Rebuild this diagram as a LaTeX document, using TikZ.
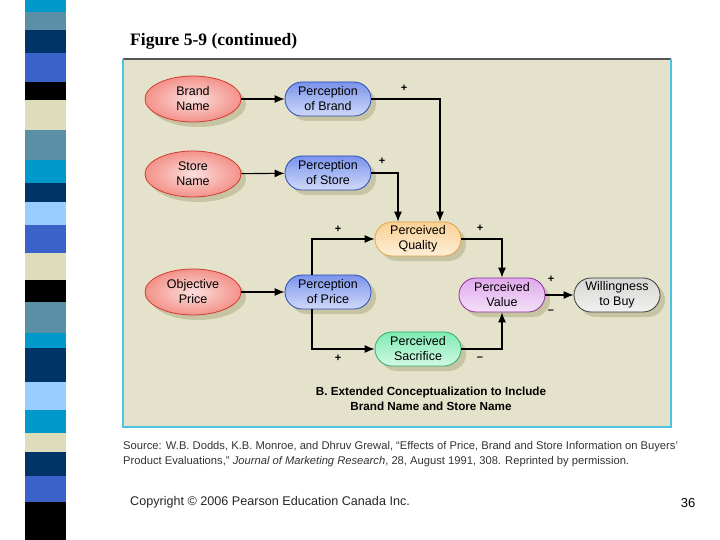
\documentclass[tikz,border=0pt]{standalone}
\usepackage{fontspec}
\setmainfont{Liberation Sans}
\newfontfamily\titlefont{Liberation Serif}
\usetikzlibrary{shapes.geometric,arrows.meta}

\definecolor{panelbg}{HTML}{E4E2CA}
\definecolor{panelline}{HTML}{4CC4E0}
\definecolor{paneltop}{HTML}{555555}
\definecolor{shadowbg}{HTML}{C6C4A2}
\definecolor{redfill}{HTML}{F3928A}
\definecolor{redline}{HTML}{D23A32}
\definecolor{bluefill}{HTML}{7A94EC}
\definecolor{blueline}{HTML}{2A4AB8}
\definecolor{orangefill}{HTML}{FAD094}
\definecolor{orangeline}{HTML}{E3A244}
\definecolor{purplefill}{HTML}{E0A8EC}
\definecolor{purpleline}{HTML}{8E2E9C}
\definecolor{greenfill}{HTML}{7EEBB2}
\definecolor{greenline}{HTML}{2AAE6A}
\definecolor{grayfill}{HTML}{D6D6D4}
\definecolor{grayline}{HTML}{3A3A3A}
\definecolor{stripecyan}{HTML}{0099CC}
\definecolor{stripesteel}{HTML}{5B8FA6}
\definecolor{stripenavy}{HTML}{003366}
\definecolor{striperoyal}{HTML}{3A62C8}
\definecolor{stripebeige}{HTML}{DDDDBB}
\definecolor{stripesky}{HTML}{99CCFF}

\newcommand{\diagfont}{\fontsize{12.5}{15}\selectfont}

\tikzset{
  shade box/.style={preaction={draw=none, fill=shadowbg, transform canvas={xshift=5pt,yshift=-5pt}}},
  inputbox/.style={ellipse, draw=redline, line width=0.8pt, inner color=redfill!30!white, outer color=redfill,
    minimum width=96pt, minimum height=46pt, inner sep=0pt, align=center, font=\diagfont, shade box},
  stagebox/.style={rectangle, rounded corners=17pt, draw=#1line, line width=0.8pt, top color=#1fill, bottom color=#1fill!35!white,
    minimum width=86pt, minimum height=34pt, inner sep=0pt, align=center, font=\diagfont, shade box},
  conn/.style={line width=1.1pt, -{Latex[length=10pt,width=8pt]}},
  sign/.style={font=\fontsize{11}{11}\bfseries\selectfont, inner sep=0pt}
}

\begin{document}
\begin{tikzpicture}[x=1pt,y=-1pt]
    \useasboundingbox[fill=white] (0,0) rectangle (720,540);

    % striped bar on the left
    \foreach \ya/\yb/\c in {0/12/stripecyan, 12/30/stripesteel, 30/53/stripenavy, 53/82/striperoyal,
        82/100/black, 100/130/stripebeige, 130/160/stripesteel, 160/183/stripecyan, 183/202/stripenavy,
        202/225/stripesky, 225/253/striperoyal, 253/280/stripebeige, 280/302/black, 302/333/stripesteel,
        333/348/stripecyan, 348/382/stripenavy, 382/410/stripesky, 410/433/stripecyan, 433/452/stripebeige,
        452/476/stripenavy, 476/502/striperoyal, 502/540/black}{
        \fill[\c] (25,\ya) rectangle (66,\yb);
    };

    \node[anchor=base west, inner sep=0pt, font=\titlefont\fontsize{17.5}{17.5}\bfseries\selectfont] (title) at (130,46) {Figure 5-9 (continued)};

    % panel
    \fill[panelbg] (123,59) rectangle (671,427);
    \draw[paneltop, line width=1.5pt] (123,59) -- (671,59);
    \draw[panelline, line width=2pt] (123,59) -- (123,427) -- (671,427) -- (671,59);

    \node[inputbox] (bn) at (193,99) {Brand\\Name};
    \node[inputbox] (sn) at (193,174) {Store\\Name};
    \node[inputbox] (op) at (193,292) {Objective\\Price};

    \node[stagebox=blue] (pb) at (328,99) {Perception\\of Brand};
    \node[stagebox=blue] (pst) at (328,173) {Perception\\of Store};
    \node[stagebox=blue] (pp) at (328,292) {Perception\\of Price};
    \node[stagebox=orange] (pq) at (418,239) {Perceived\\Quality};
    \node[stagebox=green] (ps) at (418,349) {Perceived\\Sacrifice};
    \node[stagebox=purple] (pv) at (502,295) {Perceived\\Value};
    \node[stagebox=gray] (wb) at (617,295) {Willingness\\to Buy};

    \draw[conn] (bn) -- (pb);
    \draw[conn] (sn) -- (pst);
    \draw[conn] (op) -- (pp);
    \draw[conn] (pb.east) -| ([xshift=22pt]pq.north);
    \draw[conn] (pst.east) -| ([xshift=-20pt]pq.north);
    \draw[conn] ([xshift=-16pt]pp.north) |- (pq.west);
    \draw[conn] ([xshift=-16pt]pp.south) |- (ps.west);
    \draw[conn] (pq.east) -| (pv.north);
    \draw[conn] (ps.east) -| (pv.south);
    \draw[conn] (pv) -- (wb);

    \node[sign] (s1) at (404,88) {+};
    \node[sign] (s2) at (382,161) {+};
    \node[sign] (s3) at (338,229) {+};
    \node[sign] (s4) at (338,358) {+};
    \node[sign] (s5) at (480,228) {+};
    \node[sign] (s6) at (480,359) {--};
    \node[sign] (s7) at (551,279) {+};
    \node[sign] (s8) at (551,312) {--};

    \node[align=center, font=\fontsize{11.7}{15}\bfseries\selectfont] (caption) at (431,399)
        {B. Extended Conceptualization to Include\\Brand Name and Store Name};

    \node[anchor=west, align=left, inner sep=0pt, text=black!80, font=\fontsize{11.2}{15}\selectfont] (source) at (123,454)
        {Source: W.B. Dodds, K.B. Monroe, and Dhruv Grewal, “Effects of Price, Brand and Store Information on Buyers’\\
         Product Evaluations,” \textit{Journal of Marketing Research}, 28, August 1991, 308. Reprinted by permission.};

    \node[anchor=west, inner sep=0pt, text=black!85, font=\fontsize{12.6}{12.6}\selectfont] (copy) at (130,502)
        {Copyright © 2006 Pearson Education Canada Inc.};
    \node[inner sep=0pt, font=\fontsize{13}{13}\selectfont] (page) at (688,503) {36};
\end{tikzpicture}
\end{document}
